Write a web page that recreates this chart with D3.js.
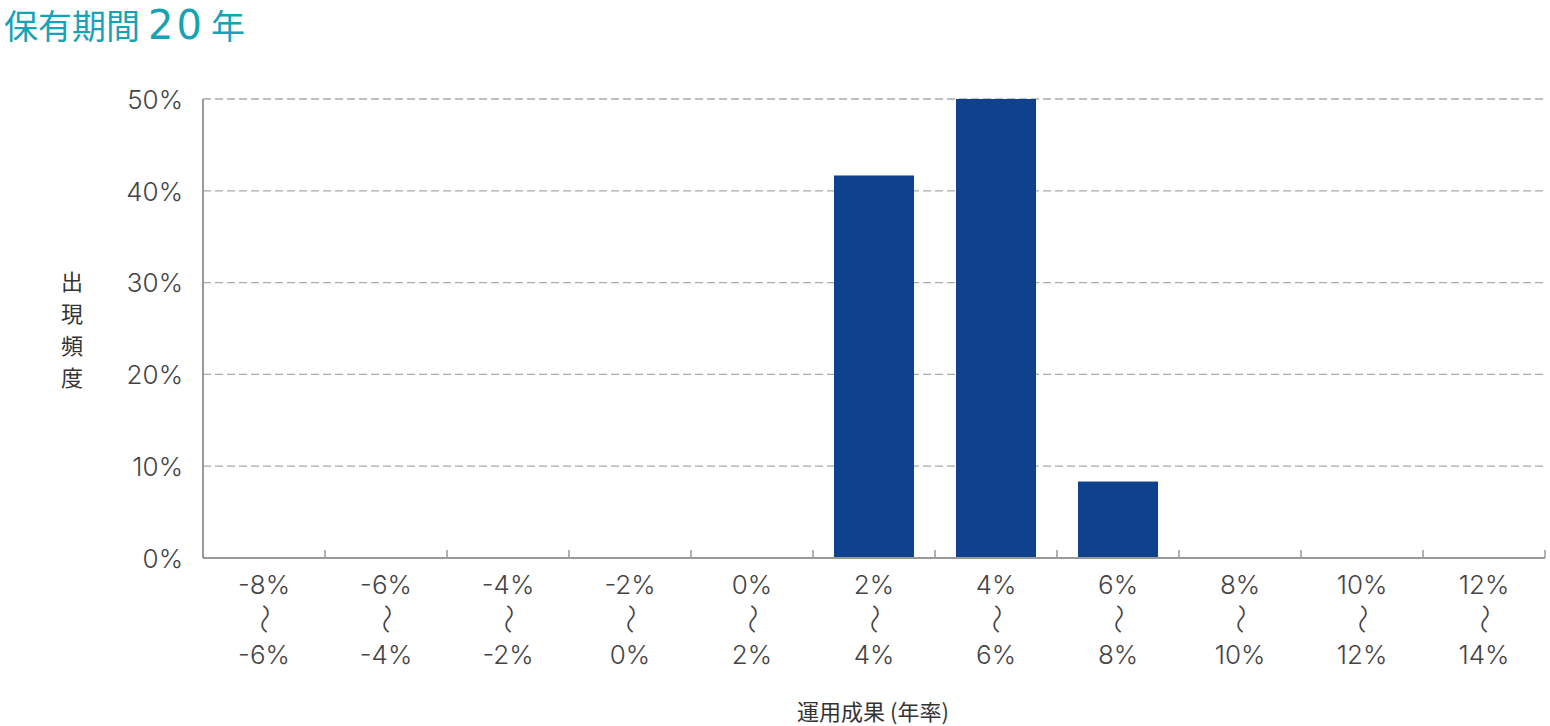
<!DOCTYPE html>
<html>
<head>
<meta charset="utf-8">
<script src="https://cdn.jsdelivr.net/npm/d3@7"></script>
<style>
  html, body { margin: 0; padding: 0; background: #fff; }
  svg { display: block; }
</style>
</head>
<body>
<svg id="chart" width="1550" height="726"></svg>
<script>
// ---- data ----
const categoryFrom = ["-8%", "-6%", "-4%", "-2%", "0%", "2%", "4%", "6%", "8%", "10%", "12%"];
const categoryTo   = ["-6%", "-4%", "-2%", "0%", "2%", "4%", "6%", "8%", "10%", "12%", "14%"];
const frequency    = [0, 0, 0, 0, 0, 41.67, 50, 8.33, 0, 0, 0];
const yTicks       = [0, 10, 20, 30, 40, 50];
const titleMain    = "保有期間";
const titleNum     = "20";
const titleUnit    = "年";
const yTitle       = ["出", "現", "頻", "度"];
const xTitle       = "運用成果 (年率)";

const svg = d3.select("#chart");
const margin = { left: 203, right: 1545, top: 99, bottom: 558 };
const cats = categoryFrom.map((d, i) => i);

const x = d3.scaleBand().domain(cats).range([margin.left, margin.right])
  .paddingInner(0.344).paddingOuter(0.172);
const y = d3.scaleLinear().domain([0, 50]).range([margin.bottom, margin.top]);

const numFont = "Inter, 'DejaVu Sans', sans-serif";
const cjk = "'Noto Sans CJK JP', sans-serif";
const teal = "#17a2b5";

// title
svg.append("text").attr("x", 4).attr("y", 39).attr("fill", teal)
  .attr("font-family", cjk).attr("font-size", 34).text(titleMain);
svg.append("text").attr("x", 148).attr("y", 39)
  .attr("fill", teal).attr("font-family", "'DejaVu Sans', sans-serif").attr("font-size", 40)
  .attr("letter-spacing", 3).text(titleNum);
svg.append("text").attr("x", 211).attr("y", 39).attr("fill", teal)
  .attr("font-family", cjk).attr("font-size", 34).text(titleUnit);

// gridlines
svg.append("g").selectAll("line").data(yTicks.filter(d => d > 0)).join("line")
  .attr("x1", margin.left).attr("x2", margin.right)
  .attr("y1", d => y(d)).attr("y2", d => y(d))
  .attr("stroke", "#aaaaaa").attr("stroke-width", 1.3)
  .attr("stroke-dasharray", "8,4");

// bars
svg.append("g").selectAll("rect").data(frequency).join("rect")
  .attr("x", (d, i) => x(i)).attr("width", x.bandwidth())
  .attr("y", d => y(d)).attr("height", d => y(0) - y(d))
  .attr("fill", "#0e428c");

// y axis labels
const yAxis = d3.axisLeft(y).tickValues(yTicks).tickSize(0).tickPadding(20)
  .tickFormat(d => d + "%");
const gy = svg.append("g").attr("transform", `translate(${margin.left},0)`).call(yAxis);
gy.select(".domain").remove();
gy.selectAll("text").attr("font-family", numFont).attr("font-size", 26)
  .attr("font-weight", 300).attr("fill", "#444").attr("dy", "0.36em");

// axis lines
svg.append("line").attr("x1", margin.left).attr("x2", margin.left)
  .attr("y1", margin.top).attr("y2", margin.bottom)
  .attr("stroke", "#999").attr("stroke-width", 2);
svg.append("line").attr("x1", margin.left).attr("x2", margin.right)
  .attr("y1", margin.bottom).attr("y2", margin.bottom)
  .attr("stroke", "#999").attr("stroke-width", 2);

// x ticks at band boundaries
const step = x.step();
const boundaries = cats.map(i => x(i) - (step - x.bandwidth()) / 2 + step);
svg.append("g").selectAll("line").data(boundaries).join("line")
  .attr("x1", d => d).attr("x2", d => d)
  .attr("y1", margin.bottom).attr("y2", margin.bottom - 8)
  .attr("stroke", "#999").attr("stroke-width", 1.5);

// x labels
const xl = svg.append("g").selectAll("g").data(cats).join("g")
  .attr("transform", i => `translate(${x(i) + x.bandwidth() / 2},0)`);
xl.append("text").attr("class", "num").attr("y", 594).text(i => categoryFrom[i]);
xl.append("text").attr("transform", "translate(0,619) rotate(90)")
  .attr("font-family", cjk).attr("font-weight", 300).attr("font-size", 30)
  .attr("dy", "0.35em").text("〜");
xl.append("text").attr("class", "num").attr("y", 664).text(i => categoryTo[i]);
xl.selectAll("text").attr("text-anchor", "middle").attr("fill", "#444");
xl.selectAll("text.num").attr("font-family", numFont).attr("font-size", 26).attr("font-weight", 300);

// y title
svg.append("g").selectAll("text").data(yTitle).join("text")
  .attr("x", 72).attr("y", (d, i) => 290 + i * 32)
  .attr("text-anchor", "middle").attr("font-family", cjk)
  .attr("font-size", 22).attr("fill", "#333").text(d => d);

// x title
svg.append("text").attr("x", 873).attr("y", 720).attr("text-anchor", "middle")
  .attr("font-family", cjk).attr("font-size", 22).attr("fill", "#333").text(xTitle);
</script>
</body>
</html>
